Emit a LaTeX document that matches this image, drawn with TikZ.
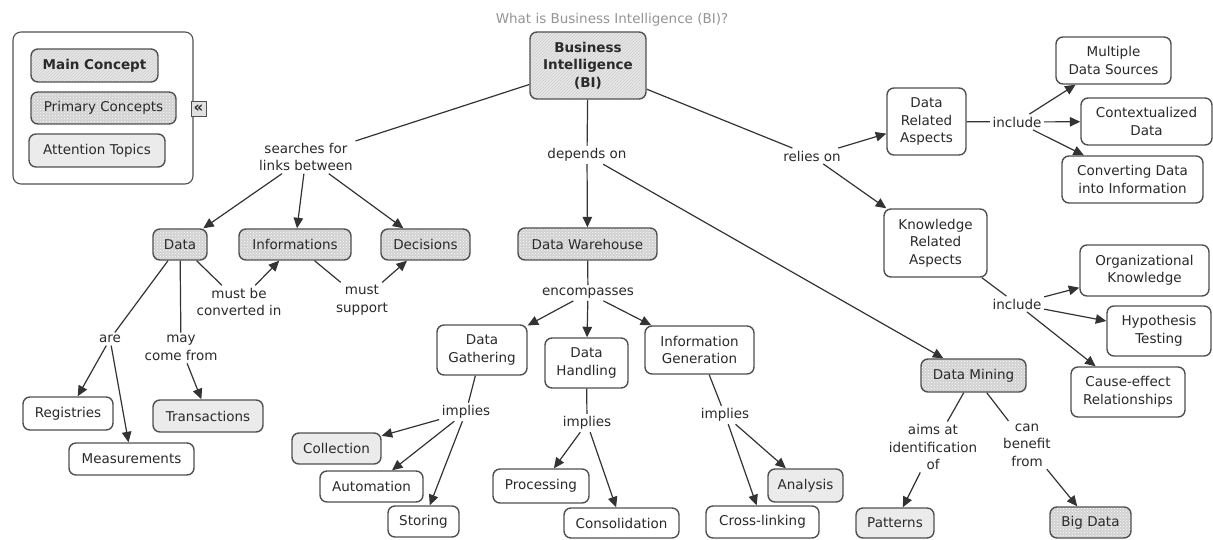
\documentclass[tikz,border=0pt]{standalone}
\usepackage{fontspec}
\setmainfont{DejaVu Sans}
\usetikzlibrary{arrows.meta,patterns}
\definecolor{ink}{HTML}{333333}
\definecolor{frame}{HTML}{505050}
\definecolor{txt}{HTML}{2A2A2A}
\begin{document}
\begin{tikzpicture}[x=1pt,y=-1pt,
  every node/.style={font=\fontsize{13.5}{17.5}\selectfont, text=txt},
  concept/.style={draw=frame, line width=1.4pt, rounded corners=7pt,
    inner sep=0pt, align=center, fill=white},
  mainc/.style={concept, font=\fontsize{13.5}{17.5}\selectfont\bfseries,
    preaction={fill=black!9}, pattern=north east lines, pattern color=black!20},
  primary/.style={concept, preaction={fill=black!18},
    pattern=crosshatch dots, pattern color=white},
  attention/.style={concept, fill=black!8},
  link/.style={align=center, inner sep=2.5pt},
  conn/.style={draw=ink, line width=1.2pt},
  arr/.style={conn, -{Triangle[length=10.5pt,width=9.5pt]}}
]
\useasboundingbox (0,0) rectangle (1213,540);

% title
\node[text=black!42] (title) at (612,20) {What is Business Intelligence (BI)?};

% legend
\node[draw=frame, line width=1.1pt, rounded corners=8pt,
      minimum width=180pt, minimum height=152pt] (legend) at (103,108) {};
\node[mainc, minimum width=127pt, minimum height=33pt] (lgmain) at (94.5,65.5) {Main Concept};
\node[primary, minimum width=145pt, minimum height=32pt] (lgprim) at (103.5,108) {Primary Concepts};
\node[attention, minimum width=136pt, minimum height=33pt] (lgatt) at (97,150.5) {Attention Topics};
\node[draw=frame, line width=0.9pt, fill=black!12, minimum size=15pt, inner sep=0pt,
      font=\fontsize{15}{15}\selectfont\bfseries] (collapse) at (198.5,108.5) {«};

% concepts
\node[mainc, minimum width=116pt, minimum height=67pt] (bi) at (588,65.5) {Business\\Intelligence\\(BI)};

\node[primary, minimum width=54pt, minimum height=31pt] (data) at (180,244.5) {Data};
\node[primary, minimum width=112pt, minimum height=31pt] (info) at (295,244.5) {Informations};
\node[primary, minimum width=89pt, minimum height=31pt] (dec) at (425.5,244.5) {Decisions};
\node[primary, minimum width=139pt, minimum height=32pt] (dw) at (587.5,244) {Data Warehouse};
\node[primary, minimum width=105pt, minimum height=33pt] (dm) at (973.5,375.5) {Data Mining};
\node[primary, minimum width=81pt, minimum height=31pt] (bigdata) at (1090.5,522.5) {Big Data};

\node[attention, minimum width=78pt, minimum height=30pt] (patterns) at (895,523) {Patterns};
\node[attention, minimum width=110pt, minimum height=32pt] (trans) at (208,416) {Transactions};
\node[attention, minimum width=89pt, minimum height=31pt] (coll) at (336.5,448.5) {Collection};
\node[attention, minimum width=75pt, minimum height=33pt] (analysis) at (805.5,485.5) {Analysis};

\node[concept, minimum width=90pt, minimum height=33pt] (reg) at (68,413.5) {Registries};
\node[concept, minimum width=125pt, minimum height=32pt] (meas) at (131.5,459) {Measurements};
\node[concept, minimum width=103pt, minimum height=31pt] (auto) at (371.5,486.5) {Automation};
\node[concept, minimum width=71pt, minimum height=31pt] (storing) at (423.5,521.5) {Storing};
\node[concept, minimum width=96pt, minimum height=34pt] (proc) at (541,486) {Processing};
\node[concept, minimum width=115pt, minimum height=30pt] (consol) at (621.5,523) {Consolidation};
\node[concept, minimum width=113pt, minimum height=32pt] (cross) at (762.5,522) {Cross-linking};

\node[concept, minimum width=90pt, minimum height=50pt] (dg) at (482,350) {Data\\Gathering};
\node[concept, minimum width=83pt, minimum height=50pt] (dh) at (586.5,363) {Data\\Handling};
\node[concept, minimum width=109pt, minimum height=48pt] (ig) at (699.5,350) {Information\\Generation};

\node[concept, minimum width=79pt, minimum height=67pt] (dra) at (926.5,121.5) {Data\\Related\\Aspects};
\node[concept, minimum width=103pt, minimum height=68pt] (kra) at (935.5,243) {Knowledge\\Related\\Aspects};
\node[concept, minimum width=115pt, minimum height=47pt] (mds) at (1113.5,60.5) {Multiple\\Data Sources};
\node[concept, minimum width=131pt, minimum height=47pt] (ctx) at (1146.5,121.5) {Contextualized\\Data};
\node[concept, minimum width=141pt, minimum height=47pt] (cdi) at (1132.5,179.5) {Converting Data\\into Information};
\node[concept, minimum width=129pt, minimum height=51pt] (ok) at (1144.5,270.5) {Organizational\\Knowledge};
\node[concept, minimum width=104pt, minimum height=50pt] (ht) at (1159,331) {Hypothesis\\Testing};
\node[concept, minimum width=114pt, minimum height=50pt] (cer) at (1128,392) {Cause-effect\\Relationships};

% linking phrases
\node[link] (searches) at (306,157) {searches for\\links between};
\node[link] (depends) at (587,155) {depends on};
\node[link] (relies) at (812,156) {relies on};
\node[link] (incl1) at (1017,122) {include};
\node[link] (incl2) at (1017,304) {include};
\node[link] (aims) at (933,447) {aims at\\identification\\of};
\node[link] (canben) at (1027,445) {can\\benefit\\from};
\node[link] (encomp) at (588,293) {encompasses};
\node[link] (impl1) at (466,412) {implies};
\node[link] (impl2) at (587,423) {implies};
\node[link] (impl3) at (725,415) {implies};
\node[link] (are) at (110,339) {are};
\node[link] (maycome) at (181,348) {may\\come from};
\node[link] (mustbe) at (239,302) {must be\\converted in};
\node[link] (mustsup) at (362,300) {must\\support};

% connectors
\draw[conn] (bi) -- (searches);
\draw[arr] (searches) -- (data);
\draw[arr] (searches) -- (info);
\draw[arr] (searches) -- (dec);

\draw[conn] (bi) -- (depends);
\draw[arr] (depends) -- (dw);
\draw[arr] (depends) -- (dm);

\draw[conn] (bi) -- (relies);
\draw[arr] (relies) -- (dra);
\draw[arr] (relies) -- (kra);

\draw[conn] (dra) -- (incl1);
\draw[arr] (incl1) -- (mds);
\draw[arr] (incl1) -- (ctx);
\draw[arr] (incl1) -- (cdi);

\draw[conn] (kra) -- (incl2);
\draw[arr] (incl2) -- (ok);
\draw[arr] (incl2) -- (ht);
\draw[arr] (incl2) -- (cer);

\draw[conn] (dm) -- (aims);
\draw[arr] (aims) -- (patterns);
\draw[conn] (dm) -- (canben);
\draw[arr] (canben) -- (bigdata);

\draw[conn] (dw) -- (encomp);
\draw[arr] (encomp) -- (dg);
\draw[arr] (encomp) -- (dh);
\draw[arr] (encomp) -- (ig);

\draw[conn] (dg) -- (impl1);
\draw[arr] (impl1) -- (coll);
\draw[arr] (impl1) -- (auto);
\draw[arr] (impl1) -- (storing);

\draw[conn] (dh) -- (impl2);
\draw[arr] (impl2) -- (proc);
\draw[arr] (impl2) -- (consol);

\draw[conn] (ig) -- (impl3);
\draw[arr] (impl3) -- (cross);
\draw[arr] (impl3) -- (analysis);

\draw[conn] (data) -- (are);
\draw[arr] (are) -- (reg);
\draw[arr] (are) -- (meas);
\draw[conn] (data) -- (maycome);
\draw[arr] (maycome) -- (trans);
\draw[conn] (data) -- (mustbe);
\draw[arr] (mustbe) -- (info);
\draw[conn] (info) -- (mustsup);
\draw[arr] (mustsup) -- (dec);
\end{tikzpicture}
\end{document}
